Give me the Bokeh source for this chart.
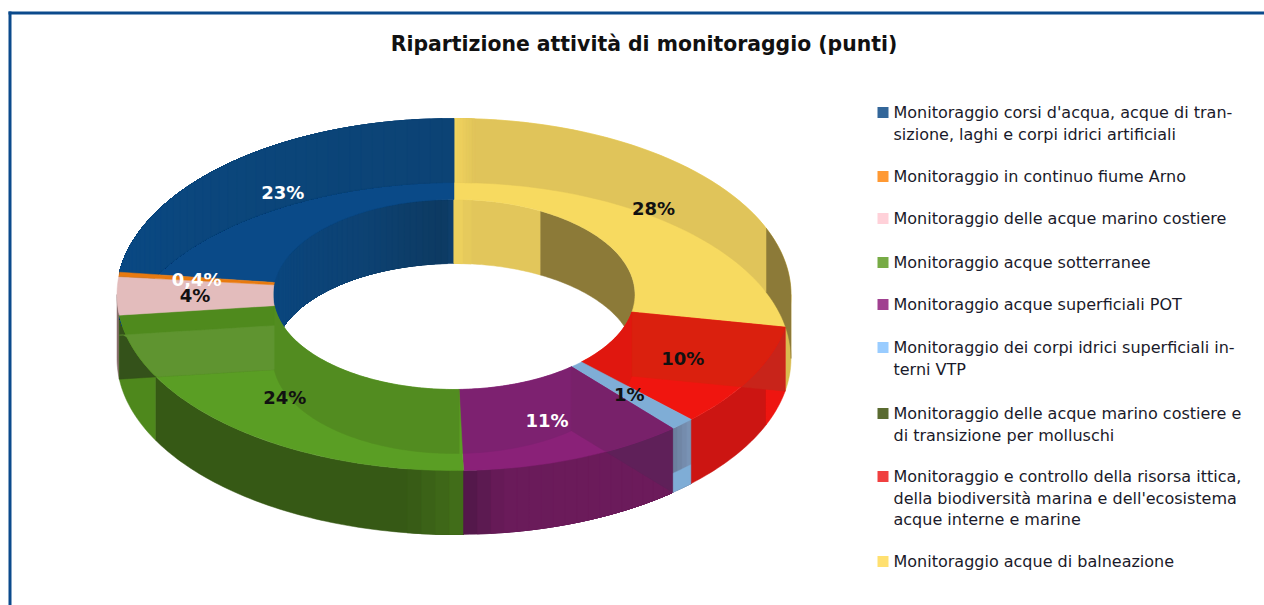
from bokeh.plotting import figure
from bokeh.models import Range1d, ColumnDataSource
from bokeh.core.properties import value
from bokeh.embed import file_html
from bokeh.resources import INLINE
import math

TITLE = "Ripartizione attività di monitoraggio (punti)"
CATEGORIES = [
    ["Monitoraggio corsi d'acqua, acque di tran-", "sizione, laghi e corpi idrici artificiali"],
    ["Monitoraggio in continuo fiume Arno"],
    ["Monitoraggio delle acque marino costiere"],
    ["Monitoraggio acque sotterranee"],
    ["Monitoraggio acque superficiali POT"],
    ["Monitoraggio dei corpi idrici superficiali in-", "terni VTP"],
    ["Monitoraggio delle acque marino costiere e", "di transizione per molluschi"],
    ["Monitoraggio e controllo della risorsa ittica,", "della biodiversità marina e dell'ecosistema", "acque interne e marine"],
    ["Monitoraggio acque di balneazione"],
]
VALUES = [23.0, 0.4, 3.5, 23.6, 10.8, 1.2, 0.0, 9.6, 28.0]
LABELS = ["23%", "0,4%", "4%", "24%", "11%", "1%", "", "10%", "28%"]
LABEL_COLORS = ["white", "white", "#111111", "#111111", "white", "#111111", "#111111", "#111111", "#111111"]
LEGEND_COLORS = ["#336699", "#FF9933", "#FFD1D9", "#77AB45", "#A04090", "#99CCFF", "#5A6B30", "#F04040", "#FFE070"]

TOP = ["#0A4A88", "#E87A10", "#E3BCBC", "#5A9E24", "#8A2178", "#7FADD6", "#4F6228", "#F0150F", "#F7DA60"]
OVER_BACK = ["#0B4579", "#E87A10", "#E3BCBC", "#5A9E24", "#8A2178", "#7FADD6", "#4F6228", "#F0150F", "#E0C45A"]
OVER_INNER = ["#0D3D6C", "#E87A10", "#E3BCBC", "#528C20", "#7D2170", "#7FADD6", "#4F6228", "#E0170F", "#E0C45A"]
WALL = ["#0B4479", "#B06010", "#8A6E6E", "#365915", "#6C1B5B", "#6D84A3", "#4F6228", "#CC1512", "#D8BC50"]
RAD_DARK = {3: "#34521A", 4: "#5F2059", 7: "#C8241A"}
RAD_OVER = {3: "#4F8A1D", 4: "#78216A", 7: "#DA200E"}

CX, CY, A, B, AI, BI, DEPTH = 453.5, 294.0, 337.0, 176.0, 181.0, 95.0, 64.0

p = figure(width=1264, height=605, x_range=Range1d(0, 1264), y_range=Range1d(605, 0),
           output_backend="svg", toolbar_location=None, min_border=0, outline_line_color=None)
p.axis.visible = False
p.grid.visible = False
p.background_fill_color = "white"
p.border_fill_color = "white"


def poly(xs, ys, color):
    p.patch(xs, ys, fill_color=color, line_color=color, line_width=0.5)


def arc(a, b, t0, t1, d=0.0):
    n = max(2, int(abs(t1 - t0)) + 2)
    ts = [math.radians(t0 + (t1 - t0) * i / (n - 1)) for i in range(n)]
    return [CX + a * math.cos(t) for t in ts], [CY - b * math.sin(t) + d for t in ts]


def band(a, b, t0, t1, color, d0=0.0, d1=DEPTH, inside=False):
    if t1 <= t0:
        return
    x0, y0 = arc(a, b, t0, t1, d0)
    x1, y1 = arc(a, b, t0, t1, d1)
    if inside:
        y1 = [min(y, CY + B * math.sqrt(max(0.0, 1 - ((x - CX) / A) ** 2))) for x, y in zip(x1, y1)]
    poly(x0 + x1[::-1], y0 + y1[::-1], color)


def mix(c0, c1, f):
    a = [int(c0[k:k + 2], 16) for k in (1, 3, 5)]
    b = [int(c1[k:k + 2], 16) for k in (1, 3, 5)]
    return "#%02X%02X%02X" % tuple(round(u + (v - u) * f) for u, v in zip(a, b))


def shaded(a, b, stops, step=2.0, **kw):
    # each strip runs on to the end of the range, so no seams show between strips
    end = stops[-1][0]
    for (t0, c0), (t1, c1) in zip(stops[:-1], stops[1:]):
        n = 1 if c0 == c1 else max(1, int((t1 - t0) / step))
        for k in range(n):
            band(a, b, t0 + (t1 - t0) * k / n, end, mix(c0, c1, (k + 0.5) / n), **kw)


def ring(t0, t1, color):
    x0, y0 = arc(A, B, t0, t1)
    x1, y1 = arc(AI, BI, t0, t1)
    poly(x0 + x1[::-1], y0 + y1[::-1], color)


def clip(t0, t1, lo, hi):
    return max(t0, lo), min(t1, hi)


total = sum(VALUES)
bounds = []
cur = 90.0
for v in VALUES:
    bounds.append((cur, cur + v * 360.0 / total))
    cur += v * 360.0 / total

# outer walls facing the viewer
for i in [8, 2, 1]:
    t0, t1 = clip(*bounds[i], 180, 360)
    band(A, B, t0, t1, WALL[i])
g0, g1 = bounds[3]
band(A, B, g0, 207.8, "#4E881C")
shaded(A, B, [(207.8, "#365915"), (262.0, "#365915"), (g1, "#43701A")])
pu0, pu1 = bounds[4]
shaded(A, B, [(pu0, "#4F1848"), (pu0 + 7, "#6A1B5A"), (pu1, "#6C1B5B")])
lb0, lb1 = bounds[5]
shaded(A, B, [(lb0, "#6A7C9A"), (lb1, "#7B96B8")], step=1.0)
band(A, B, lb0, lb1, TOP[5], 45, DEPTH)
r0, r1 = bounds[7]
band(A, B, r0, 337.8, WALL[7])
band(A, B, 337.8, r1, "#EE1510")

# back of the hole
b0, b1 = bounds[0]
shaded(AI, BI, [(b0, "#0E3F6C"), (b0 + 4, "#0D3A62"), (b0 + 30, "#0D4273"), (b1, "#0A4780")])
y0, y1 = clip(*bounds[8], 360, 450)
band(AI, BI, y0, 421.6, "#8C7A38")
shaded(AI, BI, [(421.6, "#E2C65B"), (444.6, "#E2C65B"), (y1, "#F0D45E")])


def radial_points(t, d0, d1, clip_arc=False):
    c, s = math.cos(math.radians(t)), math.sin(math.radians(t))
    xi, yi = CX + AI * c, CY - BI * s
    xo, yo = CX + A * c, CY - B * s
    xs, y_top, y_bot = [], [], []
    for k in range(41):
        f = k / 40
        x = xi + (xo - xi) * f
        y = yi + (yo - yi) * f
        yb = y + d1
        if clip_arc:
            u = (x - CX) / A
            yb = min(yb, CY + B * math.sqrt(max(0.0, 1 - u * u)))
        xs.append(x)
        y_top.append(y + d0)
        y_bot.append(max(yb, y + d0))
    return xs, y_top, y_bot


# radial walls seen below the rim
for i, c in RAD_DARK.items():
    t = bounds[i][0] if i == 3 else bounds[i][1]
    xs, yt, yb = radial_points(t, 0, DEPTH)
    poly(xs + xs[::-1], yt + yb[::-1], c)

# top faces with everything seen through them
for i in [8, 0, 7, 6, 5, 4, 3, 2, 1]:
    t0, t1 = bounds[i]
    if t1 <= t0:
        continue
    ring(t0, t1, TOP[i])
    if i == 8:
        a0, a1 = clip(t0, t1, 360, 450)
        band(A, B, a0, 382.2, "#8C7A38")
        shaded(A, B, [(382.2, OVER_BACK[8]), (a1 - 3.5, OVER_BACK[8]), (a1, "#F2D55E")], step=0.5)
    if i == 0:
        shaded(A, B, [(t0, "#0C4375"), (t0 + 30, "#0B4579"), (t1, "#0A4984")], inside=True)
    if i in (3, 4, 7):
        a0, a1 = clip(t0, t1, 180, 360)
        band(AI, BI, a0, a1, OVER_INNER[i])
    if i in RAD_OVER:
        t = t0 if i == 3 else t1
        xs, yt, yb = radial_points(t, 0, DEPTH, clip_arc=True)
        poly(xs + xs[::-1], yt + yb[::-1], RAD_OVER[i])
        if i == 3:
            xs, yt, yb = radial_points(t, 20, DEPTH, clip_arc=True)
            poly(xs + xs[::-1], yt + yb[::-1], "#5F9430")

# percent labels, placed at the middle of each slice
lx, ly, lt, lc = [], [], [], []
for (t0, t1), s, c in zip(bounds, LABELS, LABEL_COLORS):
    if not s:
        continue
    m = math.radians((t0 + t1) / 2)
    lx.append(CX + (A + AI) / 2 * math.cos(m))
    ly.append(CY - (B + BI) / 2 * math.sin(m))
    lt.append(s)
    lc.append(c)
p.text(x="x", y="y", text="t", text_color="c", source=ColumnDataSource(dict(x=lx, y=ly, t=lt, c=lc)),
       text_font=value("DejaVu Sans"), text_font_style="bold", text_font_size="18px",
       text_align="center", text_baseline="middle")

# title
p.text(x=[643.5], y=[43], text=[TITLE], text_font=value("DejaVu Sans"), text_font_style="bold",
       text_font_size="20.4px", text_color="#111111", text_align="center", text_baseline="middle")

# legend
LEGEND_X_SWATCH, LEGEND_X_TEXT = 882.5, 893
LEGEND_Y = [112, 176, 218, 262, 304, 347, 413, 476, 561]
LEGEND_STEP = 21.5
p.scatter(x=[LEGEND_X_SWATCH] * len(LEGEND_Y), y=LEGEND_Y, marker="square", size=11,
          fill_color=LEGEND_COLORS, line_color=None)
tx, ty, tt = [], [], []
for lines, y in zip(CATEGORIES, LEGEND_Y):
    for k, line in enumerate(lines):
        tx.append(LEGEND_X_TEXT)
        ty.append(y + k * LEGEND_STEP)
        tt.append(line)
p.text(x="x", y="y", text="t", source=ColumnDataSource(dict(x=tx, y=ty, t=tt)),
       text_font=value("DejaVu Sans"), text_font_size="16px", text_color="#1a1a2a",
       text_align="left", text_baseline="middle")

# frame
p.quad(left=[8], right=[1264], top=[11], bottom=[14], fill_color="#0B4A8C", line_color=None)
p.quad(left=[8], right=[11], top=[11], bottom=[605], fill_color="#0B4A8C", line_color=None)

open("out.html", "w").write(file_html(p, INLINE))
